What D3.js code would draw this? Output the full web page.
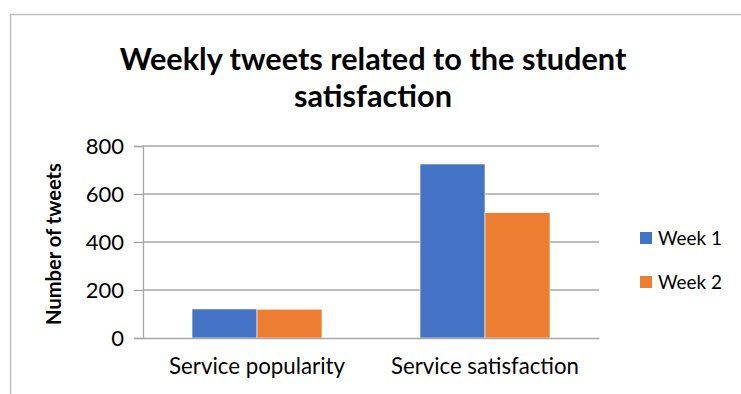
<!DOCTYPE html>
<html><head><meta charset="utf-8">
<script src="https://cdn.jsdelivr.net/npm/d3@7"></script>
<style>body{margin:0;background:#fff}svg{display:block}text{font-family:Lato,"Open Sans",sans-serif;fill:#000}</style>
</head><body>
<svg id="c" width="741" height="394"></svg>
<script>
const categories = ["Service popularity", "Service satisfaction"];
const seriesNames = ["Week 1", "Week 2"];
const week1 = [121, 725];
const week2 = [120, 522];
const yTicks = [0, 200, 400, 600, 800];
const colors = ["#4472C4", "#ED7D31"];

const svg = d3.select("#c");
function fit(sel, w) {
  const n = sel.node();
  let fs = parseFloat(sel.attr("font-size"));
  const cw = n.getComputedTextLength();
  sel.attr("font-size", (fs * w / cw).toFixed(2));
}

// chart border
svg.append("rect").attr("x", 10.5).attr("y", 14.5).attr("width", 760).attr("height", 420)
  .attr("fill", "none").attr("stroke", "#bfbfbf").attr("stroke-width", 1.5);

const x0 = d3.scaleBand().domain(categories).range([143, 599]).paddingInner(0.43).paddingOuter(0.215);
const x1 = d3.scaleBand().domain(seriesNames).range([0, x0.bandwidth()]);
const y = d3.scaleLinear().domain([0, 800]).range([338, 146]);

// gridlines
svg.append("g").selectAll("line").data(yTicks.filter(d => d > 0)).join("line")
  .attr("x1", 143).attr("x2", 599).attr("y1", d => y(d)).attr("y2", d => y(d))
  .attr("stroke", "#a6a6a6").attr("stroke-width", 1.3);

// y axis
const yAxis = svg.append("g").attr("transform", "translate(143,0)")
  .call(d3.axisLeft(y).tickValues(yTicks).tickSize(9).tickPadding(10));
yAxis.select(".domain").attr("stroke", "#a6a6a6").attr("stroke-width", 1.3);
yAxis.selectAll(".tick line").attr("stroke", "#a6a6a6").attr("stroke-width", 1.3);
yAxis.selectAll(".tick text").attr("font-size", 22).attr("font-family", "Lato").attr("fill", "#000").attr("dy", "0.36em");

// bars
const data = categories.map((c, i) => ({c, vals: [week1[i], week2[i]]}));
const g = svg.append("g").selectAll("g").data(data).join("g")
  .attr("transform", d => `translate(${x0(d.c)},0)`);
g.selectAll("rect").data(d => d.vals.map((v, j) => ({s: seriesNames[j], v, j}))).join("rect")
  .attr("x", d => x1(d.s)).attr("width", x1.bandwidth())
  .attr("y", d => y(d.v)).attr("height", d => y(0) - y(d.v))
  .attr("fill", d => colors[d.j]).attr("stroke", "#fff").attr("stroke-width", 0.6);

// x axis
const xAxis = svg.append("g").attr("transform", "translate(0,338)")
  .call(d3.axisBottom(x0).tickSize(0).tickPadding(20));
xAxis.select(".domain").attr("stroke", "#a6a6a6").attr("stroke-width", 1.3);
xAxis.selectAll(".tick text").attr("font-size", 19).attr("font-family", "Lato").attr("fill", "#000").attr("dy", "0.71em");
xAxis.selectAll(".tick text").each(function(d, i) { fit(d3.select(this), [176, 188][i]); });

// y title
const yt = svg.append("text").attr("transform", "translate(61,244) rotate(-90)")
  .attr("text-anchor", "middle").attr("font-weight", "bold").attr("font-size", 15).text("Number of tweets");
fit(yt, 162);

// title
const t1 = svg.append("text").attr("x", 373).attr("y", 70).attr("text-anchor", "middle")
  .attr("font-weight", "bold").attr("font-size", 24).text("Weekly tweets related to the student");
fit(t1, 507);
svg.append("text").attr("x", 373).attr("y", 107).attr("text-anchor", "middle")
  .attr("font-weight", "bold").attr("font-size", t1.attr("font-size")).text("satisfaction");

// legend
const lg = svg.append("g").selectAll("g").data(seriesNames).join("g")
  .attr("transform", (d, i) => `translate(640,${232 + i * 44})`);
lg.append("rect").attr("width", 12).attr("height", 12).attr("fill", (d, i) => colors[i]);
lg.append("text").attr("x", 18).attr("y", 13).attr("font-size", 18).text(d => d)
  .each(function() { fit(d3.select(this), 64); });
</script>
</body></html>
